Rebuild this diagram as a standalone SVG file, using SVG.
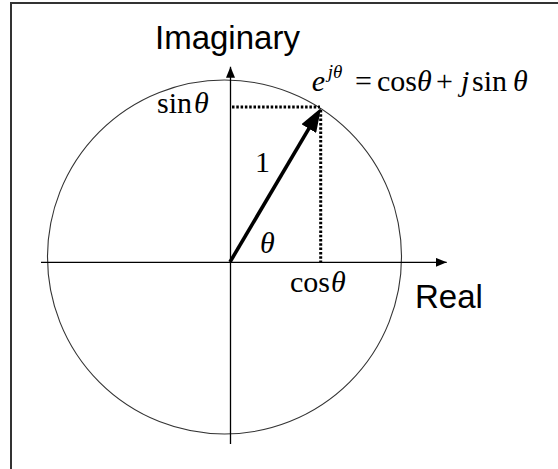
<svg xmlns="http://www.w3.org/2000/svg" width="558" height="469" viewBox="0 0 558 469">
<style>
.frame{fill:none;stroke:#333;stroke-width:2}
.axis{fill:none;stroke:#000;stroke-width:1.3}
.circ{fill:none;stroke:#333;stroke-width:1.1}
.dot{fill:none;stroke:#000;stroke-width:3;stroke-dasharray:2.5 1.8}
.vec{fill:none;stroke:#000;stroke-width:3.6}
.sans{font-family:"Liberation Sans",Arial,sans-serif;font-size:33px;fill:#000}
.serif{font-family:"Liberation Serif","Times New Roman",serif;font-size:30px;fill:#000}
.it{font-style:italic}
</style>
<defs>
<marker id="ax" markerUnits="userSpaceOnUse" markerWidth="11" markerHeight="9" refX="11" refY="4.5" orient="auto">
<path d="M0,0 L11,4.5 L0,9 z" fill="#000"/>
</marker>
<marker id="vh" markerUnits="userSpaceOnUse" markerWidth="24" markerHeight="17" refX="12" refY="8.5" orient="auto">
<path d="M0,0 L24,8.5 L0,17 z" fill="#000"/>
</marker>
</defs>
<rect width="558" height="469" fill="#fff"/>
<path class="frame" d="M11,469 V3 H558"/>
<g id="circle"><circle class="circ" cx="224.5" cy="257" r="177"/></g>
<g id="connectors">
<line class="axis" x1="41" y1="262.3" x2="446.7" y2="262.3" marker-end="url(#ax)"/>
<line class="axis" x1="230.5" y1="444" x2="230.5" y2="66.7" marker-end="url(#ax)"/>
<line class="dot" x1="232" y1="107" x2="320" y2="107"/>
<line class="dot" x1="320.7" y1="110" x2="320.7" y2="262"/>
<line class="vec" x1="230" y1="262" x2="314.9" y2="118.3" marker-end="url(#vh)"/>
</g>
<g id="labels">
<text class="sans" x="155" y="49">Imaginary</text>
<text class="sans" x="415" y="308">Real</text>
<text class="serif" x="157" y="113">sin<tspan class="it" x="194">θ</tspan></text>
<text class="serif" x="255" y="172">1</text>
<text class="serif it" x="260" y="253">θ</text>
<text class="serif" x="290" y="292">cos<tspan class="it" x="331">θ</tspan></text>
<text class="serif" y="91"><tspan class="it" x="311.7">e</tspan><tspan class="it" x="327.7" y="78" font-size="19">jθ</tspan><tspan x="355" y="91">=</tspan><tspan x="377">cos</tspan><tspan class="it" x="417">θ</tspan><tspan x="436">+</tspan><tspan class="it" x="461">j</tspan><tspan x="472">sin</tspan><tspan class="it" x="513">θ</tspan></text>
</g>
</svg>
